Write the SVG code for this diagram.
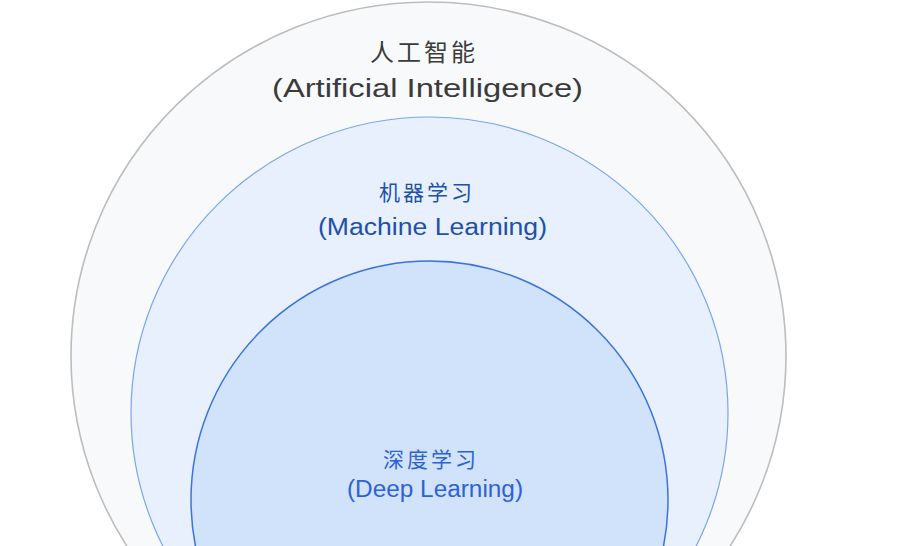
<svg xmlns="http://www.w3.org/2000/svg" width="918" height="546" viewBox="0 0 918 546">
<style>
.zh{font-family:"Noto Sans CJK SC","Noto Sans",sans-serif;text-anchor:middle;}
.en{font-family:"Liberation Sans","DejaVu Sans",sans-serif;text-anchor:middle;}
.ai{fill:#3b3b3b;}
.ml{fill:#2150a8;}
.dl{fill:#2d62d6;}
</style>
<rect width="918" height="546" fill="#ffffff"/>
<g id="ai">
<ellipse cx="428.5" cy="356" rx="357.5" ry="354" fill="#f8f9fb" stroke="#bdbdbd" stroke-width="1.6"/>
<text class="zh ai" x="424" y="61" font-size="24" letter-spacing="3">人工智能</text>
<text class="en ai" x="427.5" y="97" font-size="26" textLength="311" lengthAdjust="spacingAndGlyphs">(Artificial Intelligence)</text>
</g>
<g id="ml">
<ellipse cx="429.5" cy="413" rx="298.5" ry="296" fill="#e8f0fd" stroke="#7aa6ee" stroke-width="1.2"/>
<text class="zh ml" x="427" y="200" font-size="21" letter-spacing="3">机器学习</text>
<text class="en ml" x="432.5" y="235" font-size="23" textLength="229" lengthAdjust="spacingAndGlyphs">(Machine Learning)</text>
</g>
<g id="dl">
<ellipse cx="429.5" cy="500" rx="238.5" ry="239" fill="#d1e3fb" stroke="#3b72db" stroke-width="1.5"/>
<text class="zh dl" x="431" y="467" font-size="21" letter-spacing="3">深度学习</text>
<text class="en dl" x="435" y="497" font-size="23" textLength="176" lengthAdjust="spacingAndGlyphs">(Deep Learning)</text>
</g>
<g id="connectors"/>
</svg>
